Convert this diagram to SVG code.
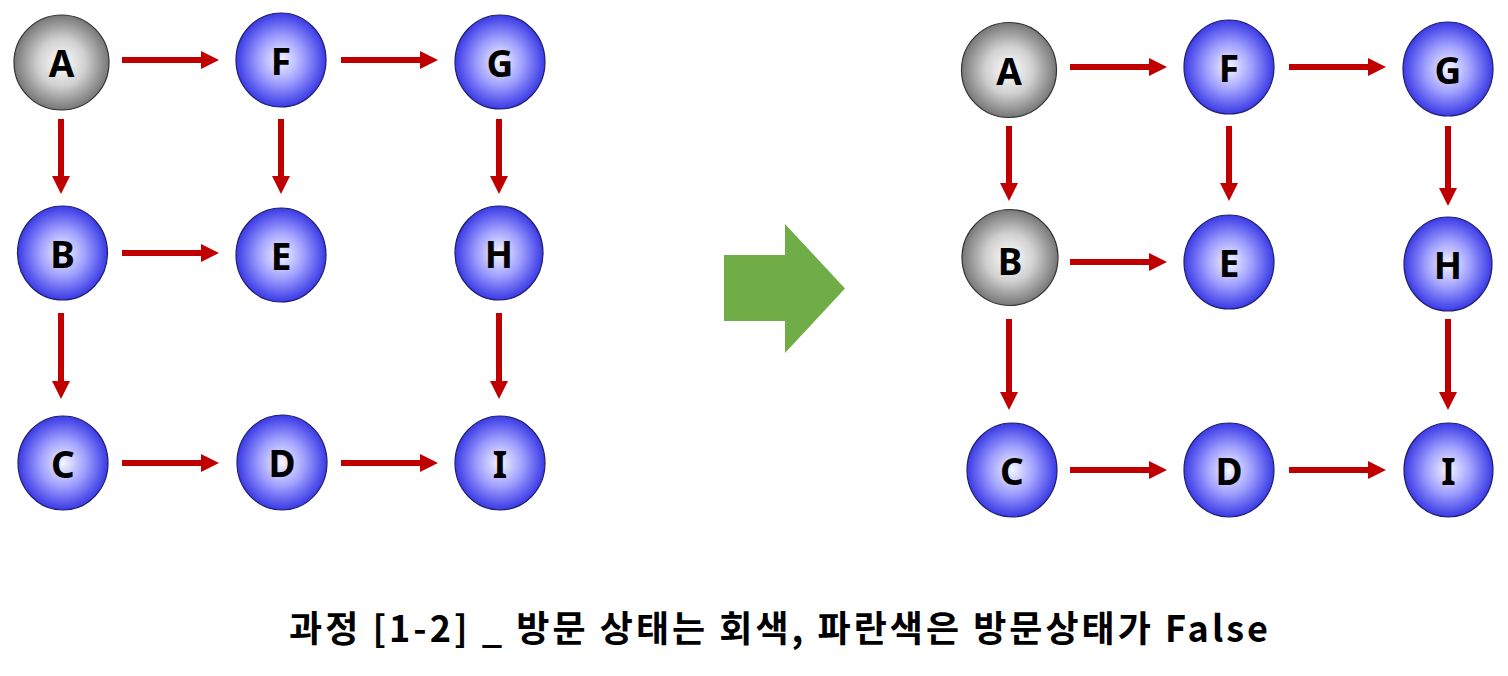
<svg xmlns="http://www.w3.org/2000/svg" width="1508" height="676" viewBox="0 0 1508 676">
<defs>
<radialGradient id="gBlue" cx="50%" cy="50%" r="50%">
<stop offset="0" stop-color="#f6f6ff"/>
<stop offset="0.5" stop-color="#a0a0ff"/>
<stop offset="1" stop-color="#3a3ae6"/>
</radialGradient>
<radialGradient id="gGray" cx="50%" cy="50%" r="50%">
<stop offset="0" stop-color="#ffffff"/>
<stop offset="0.5" stop-color="#d0d0d0"/>
<stop offset="1" stop-color="#777777"/>
</radialGradient>
<marker id="ah" viewBox="0 0 18 18" markerWidth="18" markerHeight="18" markerUnits="userSpaceOnUse" refX="0" refY="9" orient="auto">
<path d="M0,0 L18,9 L0,18 Z" fill="#c00000"/>
</marker>
</defs>
<style>
.blue{fill:url(#gBlue);stroke:#20206a;stroke-width:1.2}
.gray{fill:url(#gGray);stroke:#333333;stroke-width:1.2}
.lbl{font-family:"Noto Sans","DejaVu Sans",sans-serif;font-weight:bold;font-size:37px;fill:#000;text-anchor:middle;dominant-baseline:central}
.cn line{stroke:#c00000;stroke-width:6;marker-end:url(#ah)}
.cap{font-family:"Noto Sans CJK KR","Noto Sans",sans-serif;font-weight:bold;font-size:36px;fill:#000}
</style>
<rect width="1508" height="676" fill="#ffffff"/>

<g class="cn" id="connectors">
<line x1="122" y1="60" x2="201" y2="60"/>
<line x1="341" y1="60" x2="420" y2="60"/>
<line x1="61" y1="119" x2="61" y2="176"/>
<line x1="281" y1="119" x2="281" y2="176"/>
<line x1="499" y1="119" x2="499" y2="176"/>
<line x1="122" y1="253" x2="201" y2="253"/>
<line x1="61" y1="313" x2="61" y2="381"/>
<line x1="499" y1="313" x2="499" y2="381"/>
<line x1="122" y1="463" x2="201" y2="463"/>
<line x1="341" y1="463" x2="420" y2="463"/>

<line x1="1070" y1="67" x2="1149" y2="67"/>
<line x1="1289" y1="67" x2="1368" y2="67"/>
<line x1="1009" y1="126" x2="1009" y2="183"/>
<line x1="1229" y1="126" x2="1229" y2="183"/>
<line x1="1448" y1="126" x2="1448" y2="188"/>
<line x1="1070" y1="262" x2="1149" y2="262"/>
<line x1="1009" y1="319" x2="1009" y2="392"/>
<line x1="1448" y1="319" x2="1448" y2="392"/>
<line x1="1070" y1="470" x2="1149" y2="470"/>
<line x1="1289" y1="470" x2="1368" y2="470"/>
</g>

<g id="L_A"><circle class="gray" cx="61.5" cy="62.5" r="47.5"/><text class="lbl" x="61.5" y="62.5">A</text></g>
<g id="L_F"><ellipse class="blue" cx="281" cy="60" rx="45" ry="47"/><text class="lbl" x="281" y="60">F</text></g>
<g id="L_G"><ellipse class="blue" cx="500" cy="62" rx="45" ry="47"/><text class="lbl" x="500" y="62">G</text></g>
<g id="L_B"><ellipse class="blue" cx="62.5" cy="253" rx="45" ry="47"/><text class="lbl" x="62.5" y="253">B</text></g>
<g id="L_E"><ellipse class="blue" cx="281" cy="255" rx="45" ry="47"/><text class="lbl" x="281" y="255">E</text></g>
<g id="L_H"><ellipse class="blue" cx="499" cy="253" rx="44" ry="47"/><text class="lbl" x="499" y="253">H</text></g>
<g id="L_C"><ellipse class="blue" cx="63" cy="463" rx="45" ry="47"/><text class="lbl" x="63" y="463">C</text></g>
<g id="L_D"><ellipse class="blue" cx="282" cy="462.5" rx="45" ry="47.5"/><text class="lbl" x="282" y="462.5">D</text></g>
<g id="L_I"><ellipse class="blue" cx="500" cy="463" rx="45" ry="47"/><text class="lbl" x="500" y="463">I</text></g>

<g id="arrow"><path d="M724,255 L785,255 L785,224 L845,288.5 L785,353 L785,321 L724,321 Z" fill="#70ad47"/></g>

<g id="R_A"><circle class="gray" cx="1009" cy="70" r="47.5"/><text class="lbl" x="1009" y="70">A</text></g>
<g id="R_F"><ellipse class="blue" cx="1229" cy="67" rx="45" ry="47"/><text class="lbl" x="1229" y="67">F</text></g>
<g id="R_G"><ellipse class="blue" cx="1448" cy="69" rx="45" ry="47"/><text class="lbl" x="1448" y="69">G</text></g>
<g id="R_B"><circle class="gray" cx="1010" cy="257.5" r="48"/><text class="lbl" x="1010" y="260">B</text></g>
<g id="R_E"><ellipse class="blue" cx="1229" cy="262" rx="45" ry="47"/><text class="lbl" x="1229" y="262">E</text></g>
<g id="R_H"><ellipse class="blue" cx="1448" cy="264" rx="44" ry="47"/><text class="lbl" x="1448" y="264">H</text></g>
<g id="R_C"><ellipse class="blue" cx="1012" cy="470" rx="45" ry="47"/><text class="lbl" x="1012" y="470">C</text></g>
<g id="R_D"><ellipse class="blue" cx="1229" cy="470" rx="45" ry="47"/><text class="lbl" x="1229" y="470">D</text></g>
<g id="R_I"><ellipse class="blue" cx="1448.5" cy="470" rx="44.5" ry="47"/><text class="lbl" x="1448.5" y="470">I</text></g>

<text class="cap" x="289" y="642" textLength="979" lengthAdjust="spacing">과정 [1-2] _ 방문 상태는 회색, 파란색은 방문상태가 False</text>
</svg>
